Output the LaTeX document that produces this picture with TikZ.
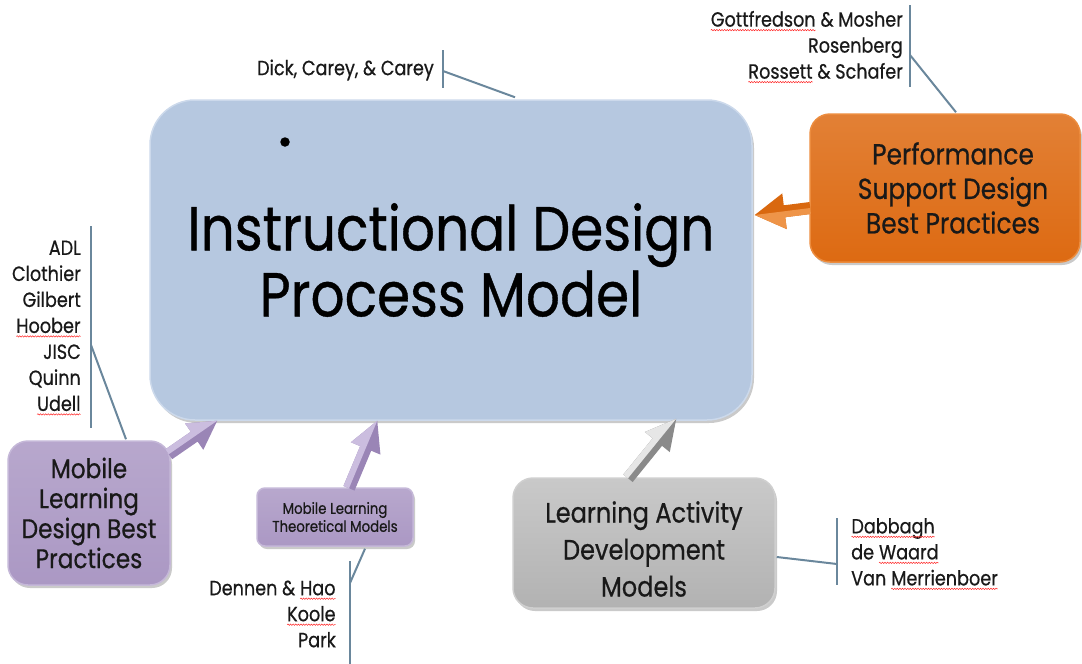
\documentclass[tikz,border=0pt]{standalone}
\usepackage{fontspec}
\setmainfont{Poppins}[FakeStretch=0.86, FakeBold=0.6]
\usetikzlibrary{calc,shadows,decorations.pathmorphing}
\newcommand\sq[1]{\tikz[baseline=(w.base), x=1pt, y=1pt]{\node[inner sep=0pt, outer sep=0pt] (w) {#1};
  \draw[red!85, line width=0.5pt, decorate, decoration={snake, amplitude=0.7pt, segment length=2.6pt}] ([yshift=-3.5pt]w.base west) -- ([yshift=-3.5pt]w.base east);}}
\definecolor{mainfill}{HTML}{B6C8E0}
\definecolor{mainedge}{HTML}{CCD9EB}
\definecolor{orfill}{HTML}{DD6A12}
\definecolor{oredge}{HTML}{EC8C3E}
\definecolor{pufill}{HTML}{AB98C4}
\definecolor{puedge}{HTML}{C5B8D8}
\definecolor{grfill}{HTML}{B2B2B2}
\definecolor{gredge}{HTML}{CFCFCF}
\definecolor{callc}{HTML}{6A879C}
\definecolor{ordark}{HTML}{D9680F}
\definecolor{orlight}{HTML}{EE9448}
\definecolor{pudark}{HTML}{9A85B6}
\definecolor{pulight}{HTML}{CBBDDF}
\definecolor{grdark}{HTML}{8A8A8A}
\definecolor{grlight}{HTML}{E6E6E6}
\newcommand\fatarrow[6]{%
  \coordinate (faq) at ($(#2)!#5!(#1)$);
  \fill[#6dark] ($(#1)!#3!90:(#2)$) -- ($(faq)!#3!90:(#2)$) -- ($(faq)!#4!90:(#2)$) -- (#2)
     -- ($(faq)!#4!-90:(#2)$) -- ($(faq)!#3!-90:(#2)$) -- ($(#1)!#3!-90:(#2)$) -- cycle;
  \fill[#6light] ($(#1)!#3!90:(#2)$) -- ($(faq)!#3!90:(#2)$) -- ($(faq)!#4!90:(#2)$) -- (#2)
     -- (faq) -- (#1) -- cycle;
}
\tikzset{
  boxshadow/.style={drop shadow={shadow xshift=2pt, shadow yshift=-3pt, opacity=0.35, fill=black!60}},
  mainbox/.style={draw=mainedge, line width=1.5pt, fill=mainfill, rounded corners=45pt, boxshadow,
     align=center, font=\fontsize{62}{66}\selectfont, text=black},
  orbox/.style={draw=oredge, line width=1.5pt, top color=orfill!85!white, bottom color=orfill, rounded corners=20pt, boxshadow},
  boxtext/.style={align=center, text=black!90},
  pubox/.style={draw=puedge, line width=1.5pt, top color=pufill!85!white, bottom color=pufill, rounded corners=#1, boxshadow,
     align=center, text=black!90},
  grbox/.style={draw=gredge, line width=1.5pt, top color=grfill!70!white, bottom color=grfill, rounded corners=20pt, boxshadow,
     align=center, font=\fontsize{28}{37}\selectfont, text=black!90},
  callline/.style={draw=callc, line width=2pt},
  reflist/.style={font=\fontsize{20.5}{26}\selectfont, text=black!90, inner sep=0pt}
}
\begin{document}
\begin{tikzpicture}[x=1pt,y=-1pt]
\useasboundingbox (0,0) rectangle (1082,664);
% reference lists and callout brackets
\node[reflist, anchor=east] (ref1) at (434,70) {Dick, Carey, \& Carey};
\coordinate (b1t) at (443,50); \coordinate (b1b) at (443,88); \coordinate (b1m) at (443,71);
\draw[callline] (b1t) -- (b1b);

\node[reflist, anchor=east, align=right] (ref2) at (903,47) {\sq{Gottfredson} \& Mosher\\Rosenberg\\\sq{Rossett} \& Schafer};
\coordinate (b2t) at (910,5); \coordinate (b2b) at (910,87); \coordinate (b2m) at (910,55);
\draw[callline] (b2t) -- (b2b);

\node[reflist, anchor=east, align=right] (ref3) at (81,328) {ADL\\Clothier\\Gilbert\\\sq{Hoober}\\JISC\\Quinn\\\sq{Udell}};
\coordinate (b3t) at (91,226); \coordinate (b3b) at (91,428); \coordinate (b3m) at (91,345);
\draw[callline] (b3t) -- (b3b);

\node[reflist, anchor=east, align=right] (ref4) at (336,614) {Dennen \& \sq{Hao}\\\sq{Koole}\\Park};
\coordinate (b4t) at (350,561); \coordinate (b4b) at (350,664); \coordinate (b4m) at (350,583);
\draw[callline] (b4t) -- (b4b);

\node[reflist, anchor=west, align=left] (ref5) at (851,554) {\sq{Dabbagh}\\de \sq{Waard}\\Van \sq{Merrienboer}};
\coordinate (b5t) at (837,518); \coordinate (b5b) at (837,585); \coordinate (b5m) at (837,564);
\draw[callline] (b5t) -- (b5b);

% main box
\node[mainbox, minimum width=602pt, minimum height=320pt] (main) at (451,260) {Instructional Design\\Process Model};
\node[circle, fill=black, inner sep=0pt, minimum size=9.5pt] (dot) at (285,142) {};

% satellite boxes
\node[orbox, minimum width=270pt, minimum height=148pt] (perf) at (945,188) {};
\node[boxtext, font=\fontsize{29}{34.5}\selectfont] (perfT) at (953,188) {Performance\\Support Design\\Best Practices};
\node[pubox=20pt, minimum width=162pt, minimum height=144pt, font=\fontsize{27}{30}\selectfont] (mobd) at (89,513) {Mobile\\Learning\\Design Best\\Practices};
\node[pubox=8pt, minimum width=156pt, minimum height=58pt, font=\fontsize{15.5}{18}\selectfont] (mobt) at (335,517) {Mobile Learning\\Theoretical Models};
\node[grbox, minimum width=262pt, minimum height=130pt] (lad) at (644,543) {};
\node[boxtext, font=\fontsize{28}{37}\selectfont] (ladT) at (644,549) {Learning Activity\\Development\\Models};

% callout connectors
\draw[callline] (b1m) -- ($(main.north)+(64,-2)$);
\draw[callline] (b2m) -- ($(perf.north)+(11,-1)$);
\draw[callline] (b3m) -- ($(mobd.north)+(37,-1)$);
\draw[callline] ($(mobt.south)+(30,2)$) -- (b4m);
\draw[callline] ($(lad.east)+(1,14)$) -- (b5m);

% fat arrows
\coordinate (a1s) at ($(perf.west)+(1,20)$); \coordinate (a1e) at ($(main.east)+(2,-45)$);
\fatarrow{a1s}{a1e}{6pt}{18pt}{30pt}{or}
\coordinate (a2s) at ($(mobd.north east)+(-2,14)$); \coordinate (a2e) at ($(main.south west)+(68,0)$);
\fatarrow{a2s}{a2e}{6pt}{16pt}{28pt}{pu}
\coordinate (a3s) at ($(mobt.north)+(14,1)$); \coordinate (a3e) at ($(main.south west)+(228,0)$);
\fatarrow{a3s}{a3e}{6pt}{16pt}{30pt}{pu}
\coordinate (a4s) at ($(lad.north)+(-16,1)$); \coordinate (a4e) at ($(main.south west)+(527,-2)$);
\fatarrow{a4s}{a4e}{6pt}{16pt}{30pt}{gr}
\end{tikzpicture}
\end{document}
